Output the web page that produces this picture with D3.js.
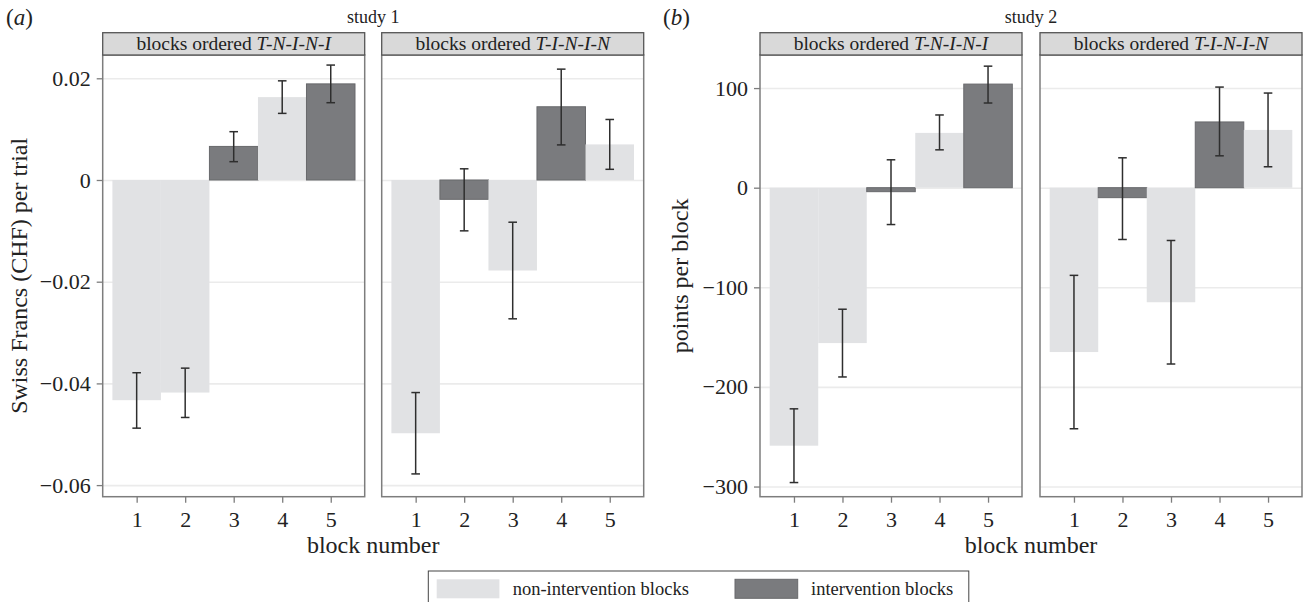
<!DOCTYPE html>
<html>
<head>
<meta charset="utf-8">
<script src="https://cdn.jsdelivr.net/npm/d3@7"></script>
<style>
  html, body { margin: 0; padding: 0; background: #fff; }
  svg { display: block; }
  svg text { font-family: "Liberation Serif", "Times New Roman", serif; }
</style>
</head>
<body>
<svg id="chart" width="1304" height="602"></svg>
<script>
// ---- data -------------------------------------------------------------
const blocks = [1, 2, 3, 4, 5];
const orderTNINI = ['N', 'N', 'I', 'N', 'I'];   // T counts as non-intervention
const orderTININ = ['N', 'I', 'N', 'I', 'N'];

// study 1: Swiss Francs (CHF) per trial
const s1TNINI = [-0.0433, -0.0418, 0.0066, 0.0163, 0.0189];
const s1TNINILo = [-0.0488, -0.0467, 0.0036, 0.0131, 0.0152];
const s1TNINIHi = [-0.0379, -0.0370, 0.0095, 0.0195, 0.0226];
const s1TININ = [-0.0498, -0.0038, -0.0178, 0.0144, 0.0070];
const s1TININLo = [-0.0578, -0.0100, -0.0273, 0.0069, 0.0021];
const s1TININHi = [-0.0418, 0.0022, -0.0083, 0.0218, 0.0119];

// study 2: points per block
const s2TNINI = [-259, -156, -4, 55, 104];
const s2TNINILo = [-296, -190, -37, 38, 85];
const s2TNINIHi = [-222, -122, 28, 73, 122];
const s2TININ = [-165, -10, -115, 66, 58];
const s2TININLo = [-242, -52, -177, 32, 21];
const s2TININHi = [-88, 30, -53, 101, 95];

const s1Ticks = [0.02, 0, -0.02, -0.04, -0.06];
const s1TickLabels = ['0.02', '0', '\u22120.02', '\u22120.04', '\u22120.06'];
const s2Ticks = [100, 0, -100, -200, -300];
const s2TickLabels = ['100', '0', '\u2212100', '\u2212200', '\u2212300'];

const legendItems = [
  { key: 'N', label: 'non-intervention blocks' },
  { key: 'I', label: 'intervention blocks' }
];

// ---- style ------------------------------------------------------------
const COLORS = { N: '#e1e2e4', I: '#7a7b7e' };
const PLOT_TOP = 55, PLOT_BOTTOM = 496.7, STRIP_TOP = 32.7;
const FACET_W = 262;
const INK = '#222';

const svg = d3.select('#chart');

function styleAxis(a) {
  a.select('.domain').remove();
  a.selectAll('line').attr('stroke', '#7d7d7d').attr('stroke-width', 1.3);
  a.selectAll('text').attr('font-size', 22).attr('fill', INK)
    .attr('font-family', '"Liberation Serif", serif');
}

function facet(g, x0, yScale, ticks, order, vals, lo, hi, title) {
  const x = d3.scaleLinear().domain([0.3, 5.7]).range([x0, x0 + FACET_W]);
  const rows = blocks.map((b, i) => ({ b, kind: order[i], v: vals[i], lo: lo[i], hi: hi[i] }));

  // grid
  g.append('g')
    .attr('transform', `translate(${x0},0)`)
    .call(d3.axisLeft(yScale).tickValues(ticks).tickSize(-FACET_W).tickFormat(''))
    .call(a => a.select('.domain').remove())
    .call(a => a.selectAll('line').attr('stroke', '#ebebeb').attr('stroke-width', 1.6));

  // bars
  g.selectAll(null).data(rows).join('rect')
    .attr('x', d => x(d.b - 0.5))
    .attr('width', d => x(d.b + 0.5) - x(d.b - 0.5))
    .attr('y', d => yScale(Math.max(0, d.v)))
    .attr('height', d => Math.abs(yScale(d.v) - yScale(0)))
    .attr('fill', d => COLORS[d.kind])
    .attr('stroke', d => d.kind === 'I' ? '#68696c' : 'none')
    .attr('stroke-width', 1);

  // error bars
  const cap = 4.3;
  const eb = g.selectAll(null).data(rows).join('g')
    .attr('stroke', '#2e2e2e').attr('stroke-width', 1.5);
  eb.append('line')
    .attr('x1', d => x(d.b)).attr('x2', d => x(d.b))
    .attr('y1', d => yScale(d.lo)).attr('y2', d => yScale(d.hi));
  eb.append('line')
    .attr('x1', d => x(d.b) - cap).attr('x2', d => x(d.b) + cap)
    .attr('y1', d => yScale(d.lo)).attr('y2', d => yScale(d.lo));
  eb.append('line')
    .attr('x1', d => x(d.b) - cap).attr('x2', d => x(d.b) + cap)
    .attr('y1', d => yScale(d.hi)).attr('y2', d => yScale(d.hi));

  // panel border
  g.append('rect')
    .attr('x', x0).attr('y', PLOT_TOP)
    .attr('width', FACET_W).attr('height', PLOT_BOTTOM - PLOT_TOP)
    .attr('fill', 'none').attr('stroke', '#7d7d7d').attr('stroke-width', 1.5);

  // strip
  g.append('rect')
    .attr('x', x0).attr('y', STRIP_TOP)
    .attr('width', FACET_W).attr('height', PLOT_TOP - STRIP_TOP)
    .attr('fill', '#d9d9d9').attr('stroke', '#555').attr('stroke-width', 1.3);
  const st = g.append('text')
    .attr('x', x0 + FACET_W / 2).attr('y', PLOT_TOP - 5.5)
    .attr('text-anchor', 'middle').attr('font-size', 19.5).attr('fill', INK);
  st.append('tspan').text('blocks ordered ');
  st.append('tspan').attr('font-style', 'italic').text(title);

  // x axis
  g.append('g')
    .attr('transform', `translate(0,${PLOT_BOTTOM})`)
    .call(d3.axisBottom(x).tickValues(blocks).tickSize(6).tickPadding(9).tickFormat(d3.format('d')))
    .call(styleAxis);
}

function panel(cfg) {
  const g = svg.append('g');
  const y = d3.scaleLinear().domain(cfg.domain).range([PLOT_BOTTOM, PLOT_TOP]);

  facet(g, cfg.x0[0], y, cfg.ticks, orderTNINI, cfg.a, cfg.aLo, cfg.aHi, 'T-N-I-N-I');
  facet(g, cfg.x0[1], y, cfg.ticks, orderTININ, cfg.b, cfg.bLo, cfg.bHi, 'T-I-N-I-N');

  // y axis
  g.append('g')
    .attr('transform', `translate(${cfg.x0[0]},0)`)
    .call(d3.axisLeft(y).tickValues(cfg.ticks).tickSize(6).tickPadding(6)
      .tickFormat((d, i) => cfg.tickLabels[i]))
    .call(styleAxis);

  const left = cfg.x0[0], right = cfg.x0[1] + FACET_W, mid = (left + right) / 2;

  g.append('text')
    .attr('transform', `translate(${cfg.yTitleX},${(PLOT_TOP + PLOT_BOTTOM) / 2}) rotate(-90)`)
    .attr('text-anchor', 'middle').attr('font-size', 24).attr('fill', INK)
    .text(cfg.yTitle);

  g.append('text')
    .attr('x', mid).attr('y', 553)
    .attr('text-anchor', 'middle').attr('font-size', 24).attr('fill', INK)
    .text('block number');

  g.append('text')
    .attr('x', mid).attr('y', 23)
    .attr('text-anchor', 'middle').attr('font-size', 18).attr('fill', INK)
    .text(cfg.study);

  const tag = g.append('text')
    .attr('x', cfg.tagX).attr('y', 25).attr('font-size', 23).attr('fill', INK);
  tag.append('tspan').text('(');
  tag.append('tspan').attr('font-style', 'italic').text(cfg.tag);
  tag.append('tspan').text(')');
}

panel({
  x0: [102.7, 381.7], domain: [-0.06228, 0.02458],
  ticks: s1Ticks, tickLabels: s1TickLabels,
  a: s1TNINI, aLo: s1TNINILo, aHi: s1TNINIHi,
  b: s1TININ, bLo: s1TININLo, bHi: s1TININHi,
  yTitle: 'Swiss Francs (CHF) per trial', yTitleX: 27,
  study: 'study 1', tag: 'a', tagX: 6
});

panel({
  x0: [760, 1040], domain: [-310.2, 133.2],
  ticks: s2Ticks, tickLabels: s2TickLabels,
  a: s2TNINI, aLo: s2TNINILo, aHi: s2TNINIHi,
  b: s2TININ, bLo: s2TININLo, bHi: s2TININHi,
  yTitle: 'points per block', yTitleX: 688,
  study: 'study 2', tag: 'b', tagX: 663
});

// legend
const lg = svg.append('g');
lg.append('rect')
  .attr('x', 428.3).attr('y', 571).attr('width', 540.5).attr('height', 45)
  .attr('fill', '#fff').attr('stroke', '#444').attr('stroke-width', 1);
const swX = [436.7, 735];
legendItems.forEach((it, i) => {
  lg.append('rect')
    .attr('x', swX[i]).attr('y', 579.3).attr('width', 62.7).attr('height', 19)
    .attr('fill', COLORS[it.key])
    .attr('stroke', it.key === 'I' ? '#68696c' : 'none');
  lg.append('text')
    .attr('x', swX[i] + 76).attr('y', 595)
    .attr('font-size', 18.5).attr('fill', INK)
    .text(it.label);
});
</script>
</body>
</html>
